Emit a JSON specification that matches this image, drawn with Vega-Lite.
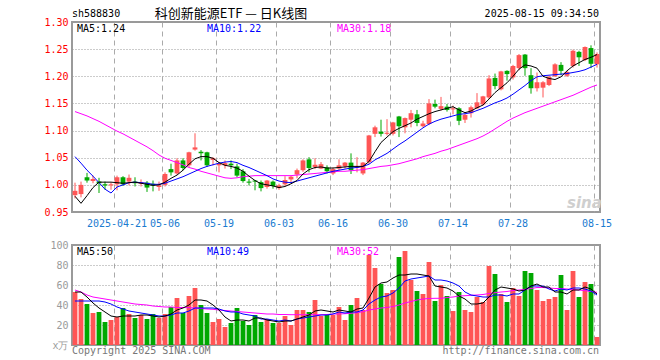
{
"$schema":"https://vega.github.io/schema/vega-lite/v6.json",
"background":"white",
"padding":{"left":42,"top":7,"right":0,"bottom":0},
"spacing":10,
"config":{
 "view":{"stroke":"#9a9a9a","strokeWidth":2},
 "axis":{"domain":false,"ticks":false,"labelFont":"DejaVu Sans Mono","labelFontSize":10,"title":null,"gridColor":"#aaaaaa","gridWidth":1,"labelOverlap":false},
 "text":{"font":"DejaVu Sans Mono","fontSize":10}
},
"datasets":{"k":[
{"d":"04-10","o":0.981,"h":1.004,"l":0.975,"c":0.989,"v":53,"m5":0.979,"m10":1.052,"m30":1.135,"vm5":53,"vm10":44,"vm30":55},
{"d":"04-11","o":0.983,"h":1.006,"l":0.977,"c":1.000,"v":46,"m5":0.966,"m10":1.040,"m30":1.131,"vm5":53,"vm10":44,"vm30":53},
{"d":"04-14","o":1.014,"h":1.022,"l":1.004,"c":1.008,"v":41,"m5":0.980,"m10":1.027,"m30":1.127,"vm5":48,"vm10":44,"vm30":50},
{"d":"04-15","o":1.007,"h":1.017,"l":1.003,"c":1.011,"v":32,"m5":0.995,"m10":1.016,"m30":1.122,"vm5":42,"vm10":44,"vm30":48},
{"d":"04-16","o":1.006,"h":1.013,"l":0.985,"c":1.003,"v":33,"m5":1.005,"m10":1.004,"m30":1.117,"vm5":37,"vm10":44,"vm30":47},
{"d":"04-17","o":1.001,"h":1.006,"l":0.991,"c":0.999,"v":23,"m5":1.005,"m10":0.992,"m30":1.111,"vm5":33,"vm10":43,"vm30":46},
{"d":"04-18","o":0.999,"h":1.004,"l":0.991,"c":1.001,"v":25,"m5":1.005,"m10":0.985,"m30":1.105,"vm5":29,"vm10":41,"vm30":45},
{"d":"04-21","o":1.001,"h":1.017,"l":0.990,"c":1.014,"v":28,"m5":1.004,"m10":0.996,"m30":1.099,"vm5":28,"vm10":38,"vm30":44},
{"d":"04-22","o":1.014,"h":1.016,"l":0.998,"c":1.001,"v":37,"m5":1.003,"m10":1.000,"m30":1.094,"vm5":29,"vm10":36,"vm30":43},
{"d":"04-23","o":1.006,"h":1.019,"l":0.999,"c":1.013,"v":31,"m5":1.004,"m10":1.004,"m30":1.088,"vm5":29,"vm10":34,"vm30":42},
{"d":"04-24","o":1.006,"h":1.014,"l":0.997,"c":1.003,"v":27,"m5":1.005,"m10":1.005,"m30":1.082,"vm5":29,"vm10":33,"vm30":41},
{"d":"04-25","o":1.002,"h":1.010,"l":0.997,"c":1.005,"v":30,"m5":1.003,"m10":1.004,"m30":1.076,"vm5":30,"vm10":32,"vm30":40.5},
{"d":"04-28","o":1.004,"h":1.007,"l":0.987,"c":0.995,"v":26,"m5":1.001,"m10":1.003,"m30":1.070,"vm5":30,"vm10":31,"vm30":40},
{"d":"04-29","o":1.002,"h":1.008,"l":0.988,"c":0.999,"v":31,"m5":0.999,"m10":1.001,"m30":1.063,"vm5":29,"vm10":30,"vm30":39},
{"d":"04-30","o":0.996,"h":1.006,"l":0.989,"c":0.999,"v":27,"m5":1.000,"m10":1.001,"m30":1.055,"vm5":28,"vm10":29,"vm30":38.5},
{"d":"05-06","o":1.000,"h":1.023,"l":0.997,"c":1.020,"v":31,"m5":1.005,"m10":1.003,"m30":1.049,"vm5":29,"vm10":29,"vm30":38},
{"d":"05-07","o":1.029,"h":1.039,"l":1.017,"c":1.023,"v":38,"m5":1.012,"m10":1.007,"m30":1.045,"vm5":31,"vm10":30,"vm30":38},
{"d":"05-08","o":1.021,"h":1.049,"l":1.019,"c":1.045,"v":47,"m5":1.018,"m10":1.011,"m30":1.041,"vm5":35,"vm10":32,"vm30":37.5},
{"d":"05-09","o":1.045,"h":1.049,"l":1.027,"c":1.031,"v":32,"m5":1.027,"m10":1.015,"m30":1.037,"vm5":37,"vm10":32,"vm30":37.5},
{"d":"05-12","o":1.036,"h":1.061,"l":1.033,"c":1.060,"v":49,"m5":1.038,"m10":1.020,"m30":1.032,"vm5":40,"vm10":34,"vm30":37.3},
{"d":"05-13","o":1.065,"h":1.095,"l":1.063,"c":1.069,"v":57,"m5":1.048,"m10":1.025,"m30":1.029,"vm5":45,"vm10":37,"vm30":37},
{"d":"05-14","o":1.061,"h":1.064,"l":1.045,"c":1.058,"v":40,"m5":1.052,"m10":1.030,"m30":1.025,"vm5":45,"vm10":37,"vm30":36.5},
{"d":"05-15","o":1.060,"h":1.061,"l":1.033,"c":1.036,"v":32,"m5":1.052,"m10":1.034,"m30":1.022,"vm5":44,"vm10":37,"vm30":36},
{"d":"05-16","o":1.046,"h":1.051,"l":1.036,"c":1.049,"v":23,"m5":1.049,"m10":1.037,"m30":1.019,"vm5":40,"vm10":37,"vm30":35.7},
{"d":"05-19","o":1.036,"h":1.042,"l":1.023,"c":1.039,"v":26,"m5":1.041,"m10":1.040,"m30":1.016,"vm5":35,"vm10":36,"vm30":35},
{"d":"05-20","o":1.036,"h":1.045,"l":1.030,"c":1.040,"v":18,"m5":1.036,"m10":1.042,"m30":1.013,"vm5":28,"vm10":34,"vm30":34.5},
{"d":"05-21","o":1.039,"h":1.045,"l":1.029,"c":1.036,"v":22,"m5":1.034,"m10":1.043,"m30":1.012,"vm5":24,"vm10":33,"vm30":34},
{"d":"05-22","o":1.034,"h":1.039,"l":1.014,"c":1.017,"v":37,"m5":1.031,"m10":1.041,"m30":1.013,"vm5":25,"vm10":33,"vm30":33.5},
{"d":"05-23","o":1.025,"h":1.029,"l":1.004,"c":1.007,"v":24,"m5":1.025,"m10":1.036,"m30":1.015,"vm5":25,"vm10":31,"vm30":33},
{"d":"05-26","o":1.006,"h":1.011,"l":0.999,"c":1.004,"v":20,"m5":1.016,"m10":1.032,"m30":1.016,"vm5":24,"vm10":30,"vm30":32.5},
{"d":"05-27","o":1.008,"h":1.009,"l":0.990,"c":1.006,"v":30,"m5":1.008,"m10":1.027,"m30":1.017,"vm5":27,"vm10":29,"vm30":32},
{"d":"05-28","o":1.005,"h":1.008,"l":0.988,"c":0.994,"v":23,"m5":1.002,"m10":1.022,"m30":1.017,"vm5":27,"vm10":26,"vm30":31.5},
{"d":"05-29","o":0.996,"h":1.009,"l":0.993,"c":1.008,"v":26,"m5":1.000,"m10":1.017,"m30":1.017,"vm5":25,"vm10":26,"vm30":31},
{"d":"05-30","o":1.006,"h":1.008,"l":0.993,"c":0.998,"v":22,"m5":0.998,"m10":1.011,"m30":1.017,"vm5":24,"vm10":25,"vm30":31},
{"d":"06-03","o":0.994,"h":1.002,"l":0.991,"c":0.999,"v":22,"m5":0.995,"m10":1.007,"m30":1.017,"vm5":23,"vm10":24,"vm30":30.5},
{"d":"06-04","o":1.001,"h":1.016,"l":0.998,"c":1.009,"v":29,"m5":0.997,"m10":1.005,"m30":1.017,"vm5":24,"vm10":25,"vm30":30.5},
{"d":"06-05","o":1.010,"h":1.017,"l":1.005,"c":1.015,"v":20,"m5":1.002,"m10":1.004,"m30":1.017,"vm5":24,"vm10":24,"vm30":30.3},
{"d":"06-06","o":1.019,"h":1.030,"l":1.012,"c":1.027,"v":35,"m5":1.008,"m10":1.007,"m30":1.018,"vm5":26,"vm10":26,"vm30":30.3},
{"d":"06-09","o":1.027,"h":1.047,"l":1.024,"c":1.045,"v":35,"m5":1.020,"m10":1.010,"m30":1.019,"vm5":28,"vm10":27,"vm30":30.3},
{"d":"06-10","o":1.047,"h":1.051,"l":1.023,"c":1.031,"v":33,"m5":1.028,"m10":1.013,"m30":1.020,"vm5":30,"vm10":28,"vm30":30.3},
{"d":"06-11","o":1.033,"h":1.049,"l":1.029,"c":1.037,"v":45,"m5":1.032,"m10":1.016,"m30":1.021,"vm5":34,"vm10":29,"vm30":30.3},
{"d":"06-12","o":1.030,"h":1.042,"l":1.029,"c":1.038,"v":29,"m5":1.033,"m10":1.019,"m30":1.022,"vm5":35,"vm10":30,"vm30":30.3},
{"d":"06-13","o":1.032,"h":1.036,"l":1.021,"c":1.025,"v":30,"m5":1.031,"m10":1.022,"m30":1.023,"vm5":34,"vm10":30,"vm30":30.5},
{"d":"06-16","o":1.021,"h":1.032,"l":1.018,"c":1.029,"v":30,"m5":1.031,"m10":1.025,"m30":1.024,"vm5":33,"vm10":31,"vm30":31},
{"d":"06-17","o":1.030,"h":1.047,"l":1.027,"c":1.036,"v":38,"m5":1.032,"m10":1.027,"m30":1.025,"vm5":35,"vm10":33,"vm30":31},
{"d":"06-18","o":1.034,"h":1.042,"l":1.030,"c":1.041,"v":25,"m5":1.033,"m10":1.029,"m30":1.025,"vm5":34,"vm10":32,"vm30":31.3},
{"d":"06-19","o":1.041,"h":1.058,"l":1.020,"c":1.027,"v":40,"m5":1.034,"m10":1.031,"m30":1.026,"vm5":33,"vm10":33,"vm30":31.7},
{"d":"06-20","o":1.031,"h":1.051,"l":1.023,"c":1.033,"v":47,"m5":1.034,"m10":1.032,"m30":1.027,"vm5":36,"vm10":33,"vm30":32.3},
{"d":"06-23","o":1.021,"h":1.042,"l":1.018,"c":1.041,"v":35,"m5":1.034,"m10":1.034,"m30":1.028,"vm5":37,"vm10":35,"vm30":33.3},
{"d":"06-24","o":1.042,"h":1.092,"l":1.039,"c":1.091,"v":90,"m5":1.043,"m10":1.038,"m30":1.030,"vm5":47,"vm10":41,"vm30":35},
{"d":"06-25","o":1.094,"h":1.109,"l":1.088,"c":1.106,"v":77,"m5":1.061,"m10":1.046,"m30":1.032,"vm5":58,"vm10":45,"vm30":36},
{"d":"06-26","o":1.098,"h":1.120,"l":1.089,"c":1.094,"v":61,"m5":1.078,"m10":1.052,"m30":1.034,"vm5":62,"vm10":48,"vm30":37},
{"d":"06-27","o":1.094,"h":1.121,"l":1.091,"c":1.096,"v":52,"m5":1.088,"m10":1.058,"m30":1.035,"vm5":63,"vm10":49,"vm30":37.5},
{"d":"06-30","o":1.094,"h":1.116,"l":1.091,"c":1.115,"v":55,"m5":1.098,"m10":1.066,"m30":1.037,"vm5":67,"vm10":52,"vm30":38.5},
{"d":"07-01","o":1.126,"h":1.127,"l":1.088,"c":1.108,"v":88,"m5":1.104,"m10":1.074,"m30":1.039,"vm5":70,"vm10":57,"vm30":40},
{"d":"07-02","o":1.106,"h":1.124,"l":1.095,"c":1.123,"v":94,"m5":1.109,"m10":1.081,"m30":1.042,"vm5":70,"vm10":64,"vm30":42},
{"d":"07-03","o":1.120,"h":1.138,"l":1.106,"c":1.132,"v":65,"m5":1.114,"m10":1.089,"m30":1.045,"vm5":71,"vm10":66,"vm30":43.5},
{"d":"07-04","o":1.130,"h":1.138,"l":1.108,"c":1.114,"v":54,"m5":1.121,"m10":1.097,"m30":1.048,"vm5":71,"vm10":67,"vm30":45},
{"d":"07-07","o":1.108,"h":1.118,"l":1.106,"c":1.113,"v":51,"m5":1.126,"m10":1.105,"m30":1.052,"vm5":70,"vm10":68,"vm30":46},
{"d":"07-08","o":1.112,"h":1.158,"l":1.110,"c":1.150,"v":83,"m5":1.131,"m10":1.112,"m30":1.055,"vm5":69,"vm10":69,"vm30":46.5},
{"d":"07-09","o":1.149,"h":1.157,"l":1.141,"c":1.144,"v":44,"m5":1.135,"m10":1.117,"m30":1.058,"vm5":59,"vm10":65,"vm30":46.7},
{"d":"07-10","o":1.140,"h":1.162,"l":1.137,"c":1.145,"v":60,"m5":1.138,"m10":1.121,"m30":1.062,"vm5":58,"vm10":65,"vm30":46.7},
{"d":"07-11","o":1.144,"h":1.149,"l":1.135,"c":1.138,"v":49,"m5":1.141,"m10":1.124,"m30":1.065,"vm5":57,"vm10":64,"vm30":47.5},
{"d":"07-14","o":1.139,"h":1.146,"l":1.130,"c":1.141,"v":34,"m5":1.144,"m10":1.127,"m30":1.069,"vm5":54,"vm10":62,"vm30":48},
{"d":"07-15","o":1.141,"h":1.143,"l":1.110,"c":1.118,"v":53,"m5":1.138,"m10":1.130,"m30":1.073,"vm5":49,"vm10":59,"vm30":49},
{"d":"07-16","o":1.120,"h":1.131,"l":1.114,"c":1.129,"v":35,"m5":1.133,"m10":1.131,"m30":1.077,"vm5":46,"vm10":53,"vm30":49.3},
{"d":"07-17","o":1.132,"h":1.146,"l":1.124,"c":1.143,"v":33,"m5":1.136,"m10":1.133,"m30":1.081,"vm5":41,"vm10":50,"vm30":49.7},
{"d":"07-18","o":1.141,"h":1.169,"l":1.140,"c":1.152,"v":48,"m5":1.142,"m10":1.137,"m30":1.085,"vm5":41,"vm10":49,"vm30":50},
{"d":"07-21","o":1.148,"h":1.164,"l":1.146,"c":1.163,"v":43,"m5":1.147,"m10":1.141,"m30":1.090,"vm5":42,"vm10":48,"vm30":50.5},
{"d":"07-22","o":1.161,"h":1.202,"l":1.158,"c":1.196,"v":79,"m5":1.158,"m10":1.146,"m30":1.096,"vm5":48,"vm10":48,"vm30":51.5},
{"d":"07-23","o":1.197,"h":1.205,"l":1.176,"c":1.182,"v":71,"m5":1.170,"m10":1.151,"m30":1.103,"vm5":55,"vm10":50,"vm30":52.3},
{"d":"07-24","o":1.176,"h":1.210,"l":1.174,"c":1.209,"v":51,"m5":1.179,"m10":1.155,"m30":1.110,"vm5":58,"vm10":50,"vm30":53},
{"d":"07-25","o":1.210,"h":1.211,"l":1.192,"c":1.204,"v":43,"m5":1.188,"m10":1.160,"m30":1.117,"vm5":57,"vm10":49,"vm30":53.5},
{"d":"07-28","o":1.198,"h":1.221,"l":1.194,"c":1.219,"v":57,"m5":1.200,"m10":1.167,"m30":1.123,"vm5":56,"vm10":51,"vm30":54.5},
{"d":"07-29","o":1.215,"h":1.241,"l":1.211,"c":1.239,"v":49,"m5":1.213,"m10":1.175,"m30":1.128,"vm5":54,"vm10":51,"vm30":55},
{"d":"07-30","o":1.240,"h":1.241,"l":1.201,"c":1.215,"v":74,"m5":1.221,"m10":1.183,"m30":1.133,"vm5":55,"vm10":55,"vm30":55.7},
{"d":"07-31","o":1.202,"h":1.215,"l":1.168,"c":1.178,"v":72,"m5":1.219,"m10":1.192,"m30":1.137,"vm5":59,"vm10":59,"vm30":56.5},
{"d":"08-01","o":1.178,"h":1.207,"l":1.172,"c":1.189,"v":55,"m5":1.215,"m10":1.199,"m30":1.141,"vm5":61,"vm10":59,"vm30":57.5},
{"d":"08-04","o":1.179,"h":1.191,"l":1.161,"c":1.189,"v":44,"m5":1.200,"m10":1.201,"m30":1.145,"vm5":58,"vm10":59,"vm30":57.5},
{"d":"08-05","o":1.184,"h":1.201,"l":1.182,"c":1.199,"v":46,"m5":1.196,"m10":1.202,"m30":1.149,"vm5":58,"vm10":56,"vm30":57},
{"d":"08-06","o":1.200,"h":1.224,"l":1.199,"c":1.222,"v":48,"m5":1.194,"m10":1.203,"m30":1.153,"vm5":53,"vm10":54,"vm30":56.5},
{"d":"08-07","o":1.221,"h":1.226,"l":1.202,"c":1.210,"v":70,"m5":1.199,"m10":1.204,"m30":1.157,"vm5":53,"vm10":56,"vm30":56.5},
{"d":"08-08","o":1.201,"h":1.210,"l":1.199,"c":1.208,"v":35,"m5":1.210,"m10":1.205,"m30":1.161,"vm5":51,"vm10":55,"vm30":56},
{"d":"08-11","o":1.219,"h":1.249,"l":1.216,"c":1.247,"v":74,"m5":1.219,"m10":1.207,"m30":1.165,"vm5":55,"vm10":57,"vm30":55.5},
{"d":"08-12","o":1.245,"h":1.247,"l":1.219,"c":1.235,"v":48,"m5":1.225,"m10":1.209,"m30":1.170,"vm5":55,"vm10":57,"vm30":55},
{"d":"08-13","o":1.230,"h":1.255,"l":1.228,"c":1.254,"v":63,"m5":1.231,"m10":1.212,"m30":1.175,"vm5":58,"vm10":56,"vm30":54.3},
{"d":"08-14","o":1.252,"h":1.257,"l":1.215,"c":1.223,"v":61,"m5":1.235,"m10":1.217,"m30":1.180,"vm5":56,"vm10":54,"vm30":53.5},
{"d":"08-15","o":1.222,"h":1.244,"l":1.216,"c":1.241,"v":8,"m5":1.240,"m10":1.222,"m30":1.184,"vm5":51,"vm10":50,"vm30":52.7}
]},
"vconcat":[
{
 "width":528,"height":190,
 "encoding":{
  "x":{"field":"d","type":"ordinal","sort":null,"scale":{"type":"band","paddingInner":0.2,"paddingOuter":0.1},
   "axis":{"values":["04-21","05-06","05-19","06-03","06-16","06-30","07-14","07-28","08-15"],"bandPosition":0,"labelExpr":"datum.value == '04-21' ? '2025-04-21' : datum.value","labelColor":"#1a7bd0","labelPadding":6,"labelAngle":0,"labelOverlap":false,"grid":true,"gridDash":[5,4]}}
 },
 "layer":[
  {"data":{"name":"k"},"mark":{"type":"rule","strokeWidth":1},
   "encoding":{"y":{"field":"l","type":"quantitative","scale":{"domain":[0.95,1.30],"nice":false,"zero":false},
     "axis":{"values":[0.95,1.0,1.05,1.1,1.15,1.2,1.25,1.3],"tickCount":20,"format":".2f","labelColor":"#ff0000","labelPadding":4,"labelOverlap":false,"labelBound":false,"labelFlush":false,"grid":true,"gridDash":[1,2],"gridColor":"#999999"}},
    "y2":{"field":"h"},
    "color":{"condition":{"test":"datum.c >= datum.o","value":"#ff5555"},"value":"#00a800"}}},
  {"data":{"name":"k"},"mark":{"type":"bar"},
   "encoding":{"y":{"field":"o","type":"quantitative"},"y2":{"field":"c"},
    "color":{"condition":{"test":"datum.c >= datum.o","value":"#ff5555"},"value":"#00a800"}}},
  {"data":{"name":"k"},"mark":{"type":"line","color":"#ff00ff","strokeWidth":1},"encoding":{"y":{"field":"m30","type":"quantitative"}}},
  {"data":{"name":"k"},"mark":{"type":"line","color":"#0000ff","strokeWidth":1},"encoding":{"y":{"field":"m10","type":"quantitative"}}},
  {"data":{"name":"k"},"mark":{"type":"line","color":"#000000","strokeWidth":1},"encoding":{"y":{"field":"m5","type":"quantitative"}}},
  {"data":{"values":[{}]},"mark":{"type":"text","align":"left","baseline":"top","dx":2,"dy":2,"color":"#000000"},
   "encoding":{"x":{"datum":"04-10","type":"ordinal"},"y":{"datum":1.30,"type":"quantitative"},"text":{"value":"MA5:1.24"}}},
  {"data":{"values":[{}]},"mark":{"type":"text","align":"left","baseline":"top","dx":0,"dy":2,"color":"#0000ff"},
   "encoding":{"x":{"datum":"05-15","type":"ordinal"},"y":{"datum":1.30,"type":"quantitative"},"text":{"value":"MA10:1.22"}}},
  {"data":{"values":[{}]},"mark":{"type":"text","align":"left","baseline":"top","dx":-2,"dy":2,"color":"#ff00ff"},
   "encoding":{"x":{"datum":"06-17","type":"ordinal"},"y":{"datum":1.30,"type":"quantitative"},"text":{"value":"MA30:1.18"}}},
  {"data":{"values":[{}]},"mark":{"type":"text","align":"left","baseline":"middle","dx":-3,"color":"#000000"},
   "encoding":{"x":{"datum":"04-10","type":"ordinal"},"y":{"datum":1.3147,"type":"quantitative"},"text":{"value":"sh588830"}}},
  {"data":{"values":[{}]},"mark":{"type":"text","align":"center","baseline":"middle","font":"Noto Sans CJK SC","fontSize":13,"color":"#000000"},
   "encoding":{"x":{"datum":"05-21","type":"ordinal"},"y":{"datum":1.3147,"type":"quantitative"},"text":{"value":"科创新能源ETF — 日K线图"}}},
  {"data":{"values":[{}]},"mark":{"type":"text","align":"right","baseline":"middle","dx":2,"color":"#000000"},
   "encoding":{"x":{"datum":"08-15","type":"ordinal"},"y":{"datum":1.3147,"type":"quantitative"},"text":{"value":"2025-08-15 09:34:50"}}},
  {"data":{"values":[{}]},"mark":{"type":"text","align":"left","baseline":"alphabetic","font":"DejaVu Sans","fontSize":15,"fontWeight":"bold","fontStyle":"italic","color":"#cfcfcf"},
   "encoding":{"x":{"datum":"08-08","type":"ordinal"},"y":{"datum":0.958,"type":"quantitative"},"text":{"value":"sina"}}}
 ]
},
{
 "width":528,"height":100,
 "encoding":{
  "x":{"field":"d","type":"ordinal","sort":null,"scale":{"type":"band","paddingInner":0.2,"paddingOuter":0.1},
   "axis":{"values":["04-21","05-06","05-19","06-03","06-16","06-30","07-14","07-28","08-15"],"bandPosition":0,"labels":false,"grid":true,"gridDash":[5,4]}}
 },
 "layer":[
  {"data":{"name":"k"},"mark":{"type":"bar"},
   "encoding":{"y":{"field":"v","type":"quantitative","scale":{"domain":[0,100],"nice":false},
     "axis":{"values":[0,20,40,60,80,100],"tickCount":20,"labelExpr":"datum.value == 0 ? 'x万' : datum.value","labelColor":"#9a9a9a","labelPadding":4,"labelOverlap":false,"labelBound":false,"labelFlush":false,"grid":true,"gridDash":[1,2],"gridColor":"#999999"}},
    "color":{"condition":{"test":"datum.c >= datum.o","value":"#ff5555"},"value":"#00a800"}}},
  {"data":{"name":"k"},"mark":{"type":"line","color":"#ff00ff","strokeWidth":1},"encoding":{"y":{"field":"vm30","type":"quantitative"}}},
  {"data":{"name":"k"},"mark":{"type":"line","color":"#0000ff","strokeWidth":1},"encoding":{"y":{"field":"vm10","type":"quantitative"}}},
  {"data":{"name":"k"},"mark":{"type":"line","color":"#000000","strokeWidth":1},"encoding":{"y":{"field":"vm5","type":"quantitative"}}},
  {"data":{"values":[{}]},"mark":{"type":"text","align":"left","baseline":"top","dx":2,"dy":2,"color":"#000000"},
   "encoding":{"x":{"datum":"04-10","type":"ordinal"},"y":{"datum":100,"type":"quantitative"},"text":{"value":"MA5:50"}}},
  {"data":{"values":[{}]},"mark":{"type":"text","align":"left","baseline":"top","dx":0,"dy":2,"color":"#0000ff"},
   "encoding":{"x":{"datum":"05-15","type":"ordinal"},"y":{"datum":100,"type":"quantitative"},"text":{"value":"MA10:49"}}},
  {"data":{"values":[{}]},"mark":{"type":"text","align":"left","baseline":"top","dx":-2,"dy":2,"color":"#ff00ff"},
   "encoding":{"x":{"datum":"06-17","type":"ordinal"},"y":{"datum":100,"type":"quantitative"},"text":{"value":"MA30:52"}}},
  {"data":{"values":[{}]},"mark":{"type":"text","align":"left","baseline":"middle","dx":-3,"color":"#777777"},
   "encoding":{"x":{"datum":"04-10","type":"ordinal"},"y":{"datum":-6,"type":"quantitative"},"text":{"value":"Copyright 2025 SINA.COM"}}},
  {"data":{"values":[{}]},"mark":{"type":"text","align":"right","baseline":"middle","dx":2,"color":"#777777"},
   "encoding":{"x":{"datum":"08-15","type":"ordinal"},"y":{"datum":-6,"type":"quantitative"},"text":{"value":"http://finance.sina.com.cn"}}}
 ]
}
]
}
